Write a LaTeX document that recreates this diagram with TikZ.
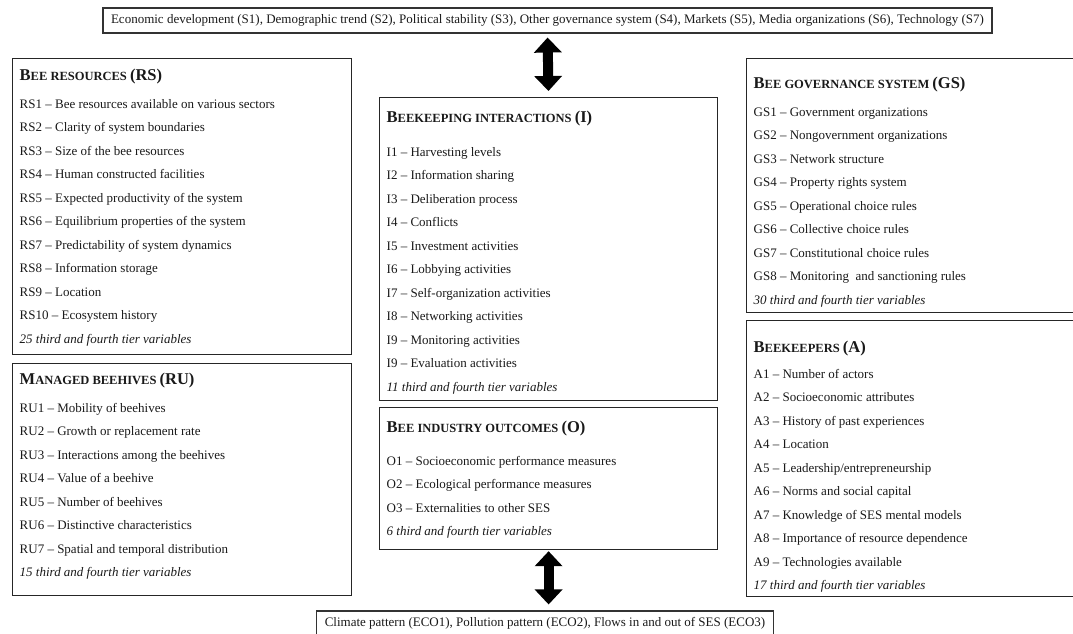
\documentclass[tikz,border=0pt]{standalone}
\usepackage{fontspec}
\setmainfont{Liberation Serif}
\usetikzlibrary{arrows.meta}
\newcommand\ttl[3]{\rule{0pt}{12pt}{\bfseries\fontsize{16.5}{23.5}\selectfont #1\fontsize{12.5}{23.5}\selectfont #2 \fontsize{16.5}{23.5}\selectfont #3}}
\tikzset{
  panel/.style={draw=black!85, line width=1.2pt, anchor=north west, inner sep=0pt},
  outerbox/.style={draw=black!80, line width=1.1pt, inner xsep=8pt, inner ysep=0pt, minimum height=25pt, font=\fontsize{13}{15}\selectfont, text=black!90},
  ptext/.style={anchor=north west, inner sep=0pt, align=left, font=\fontsize{13}{23.5}\selectfont, text=black!90},
  bigarrow/.style={line width=10pt, draw=black, {Triangle[width=27pt,length=15pt]}-{Triangle[width=27pt,length=15pt]}}
}
\begin{document}
\begin{tikzpicture}[x=1pt,y=-1pt]
\useasboundingbox (0,0) rectangle (1073,634);
\clip (0,0) rectangle (1073,634);
% outer settings
\node[outerbox] (S) at (547.5,20.5) {Economic development (S1), Demographic trend (S2), Political stability (S3), Other governance system (S4), Markets (S5), Media organizations (S6), Technology (S7)};
\node[outerbox, minimum height=24pt] (ECO) at (545,623) {Climate pattern (ECO1), Pollution pattern (ECO2), Flows in and out of SES (ECO3)};
% panels
\node[panel, minimum width=339pt, minimum height=296pt] (RS) at (12,58) {};
\node[panel, minimum width=339pt, minimum height=232pt] (RU) at (12,363) {};
\node[panel, minimum width=338pt, minimum height=303pt] (I) at (379,97) {};
\node[panel, minimum width=338pt, minimum height=142pt] (O) at (379,407) {};
\node[panel, minimum width=340pt, minimum height=254pt] (GS) at (746,58) {};
\node[panel, minimum width=340pt, minimum height=276pt] (A) at (746,320) {};
% panel texts
\node[ptext] (RS-t) at ([xshift=7.5pt,yshift=-10.5pt]RS.north west) {\ttl{B}{EE RESOURCES}{(RS)}\\[4pt]
RS1 – Bee resources available on various sectors\\
RS2 – Clarity of system boundaries\\
RS3 – Size of the bee resources\\
RS4 – Human constructed facilities\\
RS5 – Expected productivity of the system\\
RS6 – Equilibrium properties of the system\\
RS7 – Predictability of system dynamics\\
RS8 – Information storage\\
RS9 – Location\\
RS10 – Ecosystem history\\
\textit{25 third and fourth tier variables}};
\node[ptext] (RU-t) at ([xshift=7.5pt,yshift=-9.5pt]RU.north west) {\ttl{M}{ANAGED BEEHIVES}{(RU)}\\[4pt]
RU1 – Mobility of beehives\\
RU2 – Growth or replacement rate\\
RU3 – Interactions among the beehives\\
RU4 – Value of a beehive\\
RU5 – Number of beehives\\
RU6 – Distinctive characteristics\\
RU7 – Spatial and temporal distribution\\
\textit{15 third and fourth tier variables}};
\node[ptext] (I-t) at ([xshift=7.5pt,yshift=-13.5pt]I.north west) {\ttl{B}{EEKEEPING INTERACTIONS}{(I)}\\[10pt]
I1 – Harvesting levels\\
I2 – Information sharing\\
I3 – Deliberation process\\
I4 – Conflicts\\
I5 – Investment activities\\
I6 – Lobbying activities\\
I7 – Self-organization activities\\
I8 – Networking activities\\
I9 – Monitoring activities\\
I9 – Evaluation activities\\
\textit{11 third and fourth tier variables}};
\node[ptext] (O-t) at ([xshift=7.5pt,yshift=-13.5pt]O.north west) {\ttl{B}{EE INDUSTRY OUTCOMES}{(O)}\\[9pt]
O1 – Socioeconomic performance measures\\
O2 – Ecological performance measures\\
O3 – Externalities to other SES\\
\textit{6 third and fourth tier variables}};
\node[ptext] (GS-t) at ([xshift=7.5pt,yshift=-18.5pt]GS.north west) {\ttl{B}{EE GOVERNANCE SYSTEM}{(GS)}\\[4pt]
GS1 – Government organizations\\
GS2 – Nongovernment organizations\\
GS3 – Network structure\\
GS4 – Property rights system\\
GS5 – Operational choice rules\\
GS6 – Collective choice rules\\
GS7 – Constitutional choice rules\\
GS8 – Monitoring~ and sanctioning rules\\
\textit{30 third and fourth tier variables}};
\node[ptext] (A-t) at ([xshift=7.5pt,yshift=-20.5pt]A.north west) {\ttl{B}{EEKEEPERS}{(A)}\\[2pt]
A1 – Number of actors\\
A2 – Socioeconomic attributes\\
A3 – History of past experiences\\
A4 – Location\\
A5 – Leadership/entrepreneurship\\
A6 – Norms and social capital\\
A7 – Knowledge of SES mental models\\
A8 – Importance of resource dependence\\
A9 – Technologies available\\
\textit{17 third and fourth tier variables}};
% arrows
\draw[bigarrow, shorten <=4pt, shorten >=6pt] (S.south) -- (I.north);
\draw[bigarrow, shorten <=1pt, shorten >=6pt] (O.south) -- (O.south |- ECO.north);
\end{tikzpicture}
\end{document}
